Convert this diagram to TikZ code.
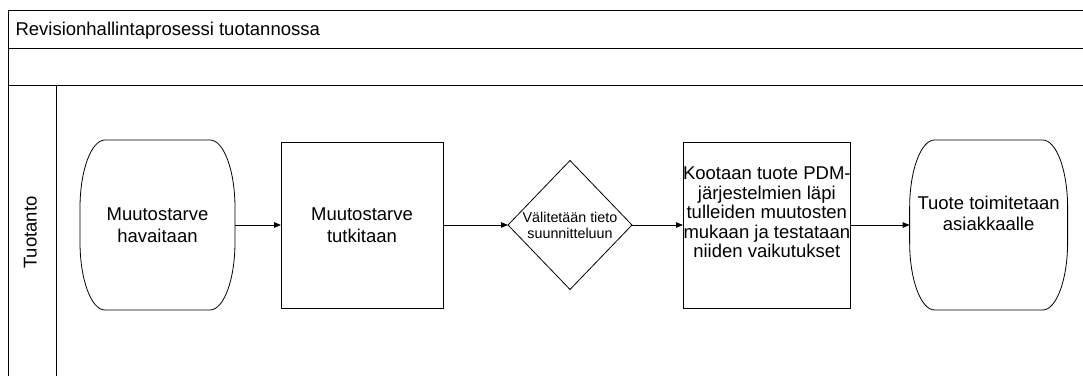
\documentclass[tikz,border=0pt]{standalone}
\usepackage{fontspec}
\setmainfont{Liberation Sans}
\usetikzlibrary{positioning,calc}
\usetikzlibrary{shapes.geometric}
\usetikzlibrary{arrows.meta}
\tikzset{
   lane/.style={line width=0.8pt},
   proc/.style={draw, line width=0.8pt, minimum width=162pt, minimum height=166pt,
      inner sep=0pt, outer sep=0pt, align=center, font=\fontsize{18.5}{21.5}\selectfont},
   term/.style={minimum width=155pt, minimum height=170pt, inner sep=0pt, outer sep=0pt,
      align=center, font=\fontsize{18.5}{21.5}\selectfont},
   decide/.style={draw, diamond, line width=0.8pt, minimum width=124pt, minimum height=129pt,
      inner sep=-3pt, outer sep=0pt, align=center, font=\fontsize{14.3}{16}\selectfont},
   flow/.style={line width=0.8pt, -{Triangle[length=7pt,width=5.5pt]}},
}
\newcommand{\termframe}[1]{%
   \draw[line width=0.8pt] ($(#1.north west)+(25,0)$) -- ($(#1.north east)+(-25,0)$)
      arc[start angle=90, end angle=0, x radius=25, y radius=68]
      -- ($(#1.south east)+(0,68)$)
      arc[start angle=0, end angle=-90, x radius=25, y radius=68]
      -- ($(#1.south west)+(25,0)$)
      arc[start angle=270, end angle=180, x radius=25, y radius=68]
      -- ($(#1.north west)+(0,-68)$)
      arc[start angle=180, end angle=90, x radius=25, y radius=68]
      -- cycle;}

\begin{document}
\begin{tikzpicture}[x=1pt,y=1pt]
   \useasboundingbox (0,0) rectangle (1083,376);

   \draw[lane] (1083,366) -- (8,366) -- (8,0);
   \draw[lane] (8,328) -- (1083,328);
   \draw[lane] (8,291) -- (1083,291);
   \draw[lane] (56,291) -- (56,0);

   \node[anchor=base west, font=\fontsize{18.5}{21.5}\selectfont] (title) at (12,341)
      {Revisionhallintaprosessi tuotannossa};
   \node[rotate=90, anchor=base, font=\fontsize{18.5}{21.5}\selectfont] (tuotanto) at (36.5,143.5)
      {Tuotanto};

   \node[term] (havaitaan) at (157.5,151) {Muutostarve\\havaitaan};
   \node[proc, right=46pt of havaitaan] (tutkitaan) {Muutostarve\\tutkitaan};
   \node[decide, right=65pt of tutkitaan] (valitetaan) {Välitetään tieto\\suunnitteluun};
   \node[proc, minimum width=163pt, text depth=25pt, font=\fontsize{18.5}{19.5}\selectfont,
      right=51pt of valitetaan] (kootaan)
      {Kootaan tuote PDM-\\järjestelmien läpi\\tulleiden muutosten\\mukaan ja testataan\\niiden vaikutukset};
   \node[term, minimum width=158pt, text depth=23pt, right=59pt of kootaan] (toimitetaan)
      {Tuote toimitetaan\\asiakkaalle};

   \termframe{havaitaan}
   \termframe{toimitetaan}

   \draw[flow] (havaitaan) -- (tutkitaan);
   \draw[flow] (tutkitaan) -- (valitetaan);
   \draw[flow] (valitetaan) -- (kootaan);
   \draw[flow] (kootaan) -- (toimitetaan);
\end{tikzpicture}
\end{document}
